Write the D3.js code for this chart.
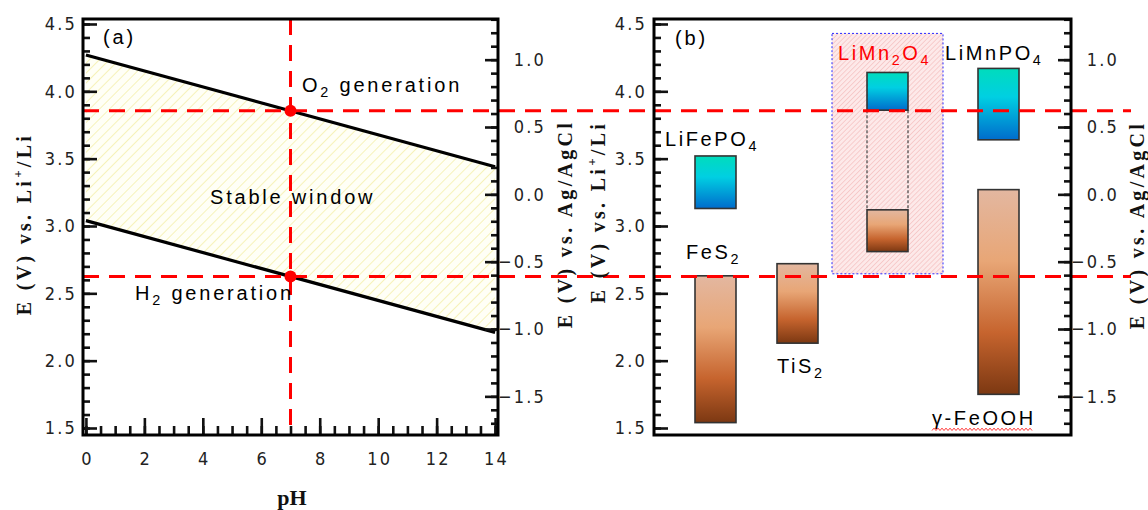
<!DOCTYPE html>
<html>
<head>
<meta charset="utf-8">
<script src="https://cdn.jsdelivr.net/npm/d3@7"></script>
<style>
  body { margin: 0; background: #ffffff; }
  svg { display: block; }
</style>
</head>
<body>
<svg id="chart" width="1148" height="510"></svg>
<script>
// ---------- Panel (a): water electrolysis limits vs pH ----------
const pHTicks = [0, 2, 4, 6, 8, 10, 12, 14];
const o2Line = [[0, 4.27], [14, 3.44]];      // [pH, E vs Li+/Li]
const h2Line = [[0, 3.04], [14, 2.21]];
const neutralPH = 7;
const neutralO2 = 3.855;
const neutralH2 = 2.625;
const agAgClOffset = 3.235;                  // E(Li+/Li) - E(Ag/AgCl)
const leftTicks = [1.5, 2.0, 2.5, 3.0, 3.5, 4.0, 4.5];
const rightTicks = [-1.5, -1.0, -0.5, 0.0, 0.5, 1.0];

// ---------- Panel (b): redox windows of electrode materials ----------
const columns = ["LiFePO4 / FeS2", "TiS2", "LiMn2O4", "LiMnPO4 / γ-FeOOH"];
const materials = ["LiFePO4", "FeS2", "TiS2", "LiMn2O4 (high)", "LiMn2O4 (low)", "LiMnPO4", "γ-FeOOH"];
const materialColumn = ["LiFePO4 / FeS2", "LiFePO4 / FeS2", "TiS2", "LiMn2O4", "LiMn2O4", "LiMnPO4 / γ-FeOOH", "LiMnPO4 / γ-FeOOH"];
const potentialLow = [3.13, 1.54, 2.13, 3.86, 2.81, 3.64, 1.75];
const potentialHigh = [3.52, 2.63, 2.72, 4.14, 3.12, 4.17, 3.27];
const materialKind = ["high", "low", "low", "high", "low", "high", "low"];
const materialLabels = ["LiFePO4", "FeS2", "TiS2", "LiMn2O4", "", "LiMnPO4", "γ-FeOOH"];
const highlightRange = [2.645, 4.43];        // shaded LiMn2O4 region

// ---------- layout ----------
const svg = d3.select("#chart");
const tickFont = "'Liberation Sans Narrow','Arial Narrow','DejaVu Sans Condensed',sans-serif";
const textFont = "'Liberation Sans',Arial,sans-serif";
const titleFont = "'Liberation Serif','Times New Roman',serif";

const frameA = { left: 83, right: 498, top: 19, bottom: 435 };
const frameB = { left: 654, right: 1071, top: 19, bottom: 435 };

const y = d3.scaleLinear().domain([1.448, 4.537]).range([frameA.bottom, frameA.top]);
const yR = d3.scaleLinear()
  .domain([1.448 - agAgClOffset, 4.537 - agAgClOffset])
  .range([frameA.bottom, frameA.top]);
const xA = d3.scaleLinear().domain([-0.1, 14.1]).range([frameA.left, frameA.right]);
const xB = d3.scaleOrdinal().domain(columns).range([715.5, 797.5, 887.5, 998.5]);
const barW = 41;

// ---------- defs: hatches and gradients ----------
const defs = svg.append("defs");

const hy = defs.append("pattern").attr("id", "hatchYellow")
  .attr("patternUnits", "userSpaceOnUse").attr("width", 7).attr("height", 7)
  .attr("patternTransform", "rotate(45)");
hy.append("rect").attr("width", 7).attr("height", 7).attr("fill", "#fffff6");
hy.append("line").attr("x1", 0).attr("y1", 0).attr("x2", 0).attr("y2", 7)
  .attr("stroke", "#f2ec9a").attr("stroke-width", 1.3);

const hp = defs.append("pattern").attr("id", "hatchPink")
  .attr("patternUnits", "userSpaceOnUse").attr("width", 3.5).attr("height", 3.5)
  .attr("patternTransform", "rotate(45)");
hp.append("rect").attr("width", 3.5).attr("height", 3.5).attr("fill", "#fde9e9");
hp.append("line").attr("x1", 0).attr("y1", 0).attr("x2", 0).attr("y2", 3.5)
  .attr("stroke", "#f4b9b9").attr("stroke-width", 1.2);

function gradient(id, stops) {
  const g = defs.append("linearGradient").attr("id", id)
    .attr("x1", 0).attr("y1", 0).attr("x2", 0).attr("y2", 1);
  stops.forEach(([o, c]) => g.append("stop").attr("offset", o).attr("stop-color", c));
}
gradient("gradBlue", [["0%", "#00dcbc"], ["40%", "#00cfe2"], ["100%", "#006ccc"]]);
gradient("gradBrown", [["0%", "#e3b7a0"], ["35%", "#e8a676"], ["70%", "#c6642e"], ["100%", "#7c3812"]]);

// ---------- helpers ----------
function chemText(sel, str, size) {
  // digits are written as subscripts
  const parts = str.split(/(\d+)/).filter(s => s.length);
  let shifted = false;
  parts.forEach(p => {
    const isNum = /^\d+$/.test(p);
    const t = sel.append("tspan").text(p);
    if (isNum) { t.attr("font-size", size * 0.72).attr("dy", shifted ? 0 : 5); shifted = true; }
    else if (shifted) { t.attr("dy", -5); shifted = false; }
  });
}

function titleText(sel, parts) {
  parts.forEach(([s, sup]) => {
    const t = sel.append("tspan").text(s);
    if (sup) t.attr("font-size", 13).attr("dy", -8);
    else if (sel.selectAll("tspan").size() > 1 && t.node().previousSibling &&
             d3.select(t.node().previousSibling).attr("dy") === "-8") t.attr("dy", 8);
  });
}

// ---------- panel (a) content ----------
const gA = svg.append("g");
const area = d3.area()
  .x(d => xA(d[0]))
  .y0(d => y(d[2]))
  .y1(d => y(d[1]));
gA.append("path")
  .datum(o2Line.map((p, i) => [p[0], p[1], h2Line[i][1]]))
  .attr("d", area).attr("fill", "url(#hatchYellow)");

const line = d3.line().x(d => xA(d[0])).y(d => y(d[1]));
[o2Line, h2Line].forEach(l => {
  gA.append("path").datum(l).attr("d", line)
    .attr("fill", "none").attr("stroke", "#000").attr("stroke-width", 3.2);
});

// ---------- panel (b) highlight box ----------
const gB = svg.append("g");
const mnX = xB("LiMn2O4");
gB.append("rect")
  .attr("x", mnX - 55.5).attr("width", 111)
  .attr("y", y(highlightRange[1])).attr("height", y(highlightRange[0]) - y(highlightRange[1]))
  .attr("fill", "url(#hatchPink)")
  .attr("stroke", "#2a2aff").attr("stroke-width", 1).attr("stroke-dasharray", "2,2");

// ---------- red reference lines ----------
const gRef = svg.append("g");
[neutralO2, neutralH2].forEach(v => {
  gRef.append("line")
    .attr("x1", frameA.left).attr("x2", 1131)
    .attr("y1", y(v)).attr("y2", y(v))
    .attr("stroke", "#ff0000").attr("stroke-width", 3).attr("stroke-dasharray", "16,10");
});
gRef.append("line")
  .attr("x1", xA(neutralPH)).attr("x2", xA(neutralPH))
  .attr("y1", frameA.top).attr("y2", frameA.bottom)
  .attr("stroke", "#ff0000").attr("stroke-width", 3).attr("stroke-dasharray", "16,10");

// ---------- bars ----------
const bars = materials.map((m, i) => ({
  name: m, col: materialColumn[i], lo: potentialLow[i], hi: potentialHigh[i],
  kind: materialKind[i], label: materialLabels[i]
}));

// dotted connector between the two LiMn2O4 plateaus
const mnHigh = bars[3], mnLow = bars[4];
[-barW / 2, barW / 2].forEach(dx => {
  gB.append("line")
    .attr("x1", xB(mnHigh.col) + dx).attr("x2", xB(mnHigh.col) + dx)
    .attr("y1", y(mnHigh.lo)).attr("y2", y(mnLow.hi))
    .attr("stroke", "#444").attr("stroke-width", 1.2).attr("stroke-dasharray", "3,2");
});

gB.selectAll("rect.bar").data(bars).join("rect")
  .attr("class", "bar")
  .attr("x", d => xB(d.col) - barW / 2)
  .attr("y", d => y(d.hi))
  .attr("width", barW)
  .attr("height", d => y(d.lo) - y(d.hi))
  .attr("fill", d => d.kind === "high" ? "url(#gradBlue)" : "url(#gradBrown)")
  .attr("stroke", "#333").attr("stroke-width", 1.6);

// material labels, anchored to their bars
const labelLayout = {
  "LiFePO4":        { dx: -50.5, edge: "hi", dy: -10, color: "#000" },
  "FeS2":           { dx: -29.5, edge: "hi", dy: -17, color: "#000" },
  "TiS2":           { dx: -20.5, edge: "lo", dy: 30,  color: "#000" },
  "LiMn2O4 (high)": { dx: -49.5, edge: "hi", dy: -12, color: "#ff0000" },
  "LiMnPO4":        { dx: -53.5, edge: "hi", dy: -8,  color: "#000" },
  "γ-FeOOH":        { dx: -66.5, edge: "lo", dy: 31,  color: "#000" }
};
bars.filter(d => d.label).forEach(d => {
  const L = labelLayout[d.name];
  const t = gB.append("text")
    .attr("x", xB(d.col) + L.dx)
    .attr("y", y(d[L.edge]) + L.dy)
    .attr("font-family", textFont).attr("font-size", 20)
    .attr("letter-spacing", 2.6).attr("fill", L.color);
  chemText(t, d.label, 20);
  if (d.name === "γ-FeOOH") {
    const bb = t.node().getBBox();
    const yy = y(d.lo) + L.dy + 4;
    const pts = [];
    for (let x = bb.x; x <= bb.x + bb.width - 3; x += 2) pts.push([x, yy + ((x - bb.x) / 2 % 2 ? -1.2 : 1.2)]);
    gB.append("path").attr("d", d3.line()(pts))
      .attr("fill", "none").attr("stroke", "#ff2020").attr("stroke-width", 0.9);
  }
});

// ---------- red dots at pH 7 ----------
[neutralO2, neutralH2].forEach(v => {
  gA.append("circle").attr("cx", xA(neutralPH)).attr("cy", y(v)).attr("r", 6).attr("fill", "#ff0000");
});

// ---------- axes ----------
function range(a, b, step) {
  const out = [];
  for (let v = a; v <= b + 1e-9; v += step) out.push(+v.toFixed(2));
  return out;
}
const fmt = d3.format(".1f");

function styleAxis(g) {
  g.select(".domain").remove();
  g.selectAll(".tick line").attr("stroke", "#111").attr("stroke-width", 2.6);
  g.selectAll("text")
    .attr("font-family", tickFont).attr("font-size", 18)
    .attr("letter-spacing", 2.2).attr("fill", "#222");
}

function leftAxis(x0, scale, majors, labelPad) {
  const minors = range(Math.ceil(scale.domain()[0] * 10) / 10, scale.domain()[1], 0.1);
  svg.append("g").attr("transform", `translate(${x0},0)`)
    .call(d3.axisLeft(scale).tickValues(minors).tickSize(-7).tickFormat(""))
    .call(styleAxis);
  svg.append("g").attr("transform", `translate(${x0},0)`)
    .call(d3.axisLeft(scale).tickValues(majors).tickSize(-14).tickPadding(labelPad).tickFormat(fmt))
    .call(styleAxis);
}
function rightAxis(x0, scale, majors, labelEnd) {
  const minors = range(Math.ceil(scale.domain()[0] * 10) / 10, scale.domain()[1], 0.1);
  svg.append("g").attr("transform", `translate(${x0},0)`)
    .call(d3.axisRight(scale).tickValues(minors).tickSize(-7).tickFormat(""))
    .call(styleAxis);
  const g = svg.append("g").attr("transform", `translate(${x0},0)`)
    .call(d3.axisRight(scale).tickValues(majors).tickSize(-13).tickFormat(fmt))
    .call(styleAxis);
  g.selectAll("text").attr("text-anchor", "end").attr("x", labelEnd);
}

leftAxis(frameA.left, y, leftTicks, 6);
rightAxis(frameA.right, yR, rightTicks, 48);
leftAxis(frameB.left, y, leftTicks, 7);
rightAxis(frameB.right, yR, rightTicks, 48);

// pH axis
const gxMinor = svg.append("g").attr("transform", `translate(0,${frameA.bottom})`)
  .call(d3.axisBottom(xA).tickValues(range(0, 14, 0.5)).tickSize(-9).tickFormat(""))
  .call(styleAxis);
const gx = svg.append("g").attr("transform", `translate(0,${frameA.bottom})`)
  .call(d3.axisBottom(xA).tickValues(pHTicks).tickSize(-17).tickPadding(17).tickFormat(d3.format("d")))
  .call(styleAxis);
gx.selectAll("text").attr("dx", 1);

// frames
[frameA, frameB].forEach(f => {
  svg.append("rect")
    .attr("x", f.left).attr("y", f.top)
    .attr("width", f.right - f.left).attr("height", f.bottom - f.top)
    .attr("fill", "none").attr("stroke", "#000").attr("stroke-width", 3);
});

// ---------- text annotations ----------
function note(x, yy, str) {
  const t = svg.append("text").attr("x", x).attr("y", yy)
    .attr("font-family", textFont).attr("font-size", 20)
    .attr("letter-spacing", 2.8).attr("fill", "#000");
  chemText(t, str, 20);
  return t;
}
note(103, 44, "(a)");
note(675, 45, "(b)");
note(302, 92, "O2 generation");
note(210, 204, "Stable window");
note(135, 300, "H2 generation");

function axisTitle(cx, cy, parts) {
  const t = svg.append("text")
    .attr("transform", `translate(${cx},${cy}) rotate(-90)`)
    .attr("text-anchor", "middle")
    .attr("font-family", titleFont).attr("font-weight", "bold")
    .attr("font-size", 20).attr("letter-spacing", 3.3).attr("fill", "#111");
  let prevSup = false;
  parts.forEach(([s, sup]) => {
    const sp = t.append("tspan").text(s);
    if (sup) { sp.attr("font-size", 13).attr("dy", -9); prevSup = true; }
    else if (prevSup) { sp.attr("dy", 9); prevSup = false; }
  });
}
axisTitle(31, 224, [["E (V) vs. Li"], ["+", true], ["/Li"]]);
axisTitle(572, 224, [["E (V) vs. Ag/AgCl"]]);
axisTitle(605, 212, [["E (V) vs. Li"], ["+", true], ["/Li"]]);
axisTitle(1144, 225, [["E (V) vs. Ag/AgCl"]]);

svg.append("text").attr("x", 292).attr("y", 505).attr("text-anchor", "middle")
  .attr("font-family", titleFont).attr("font-weight", "bold").attr("font-size", 22)
  .attr("fill", "#111").text("pH");
</script>
</body>
</html>
